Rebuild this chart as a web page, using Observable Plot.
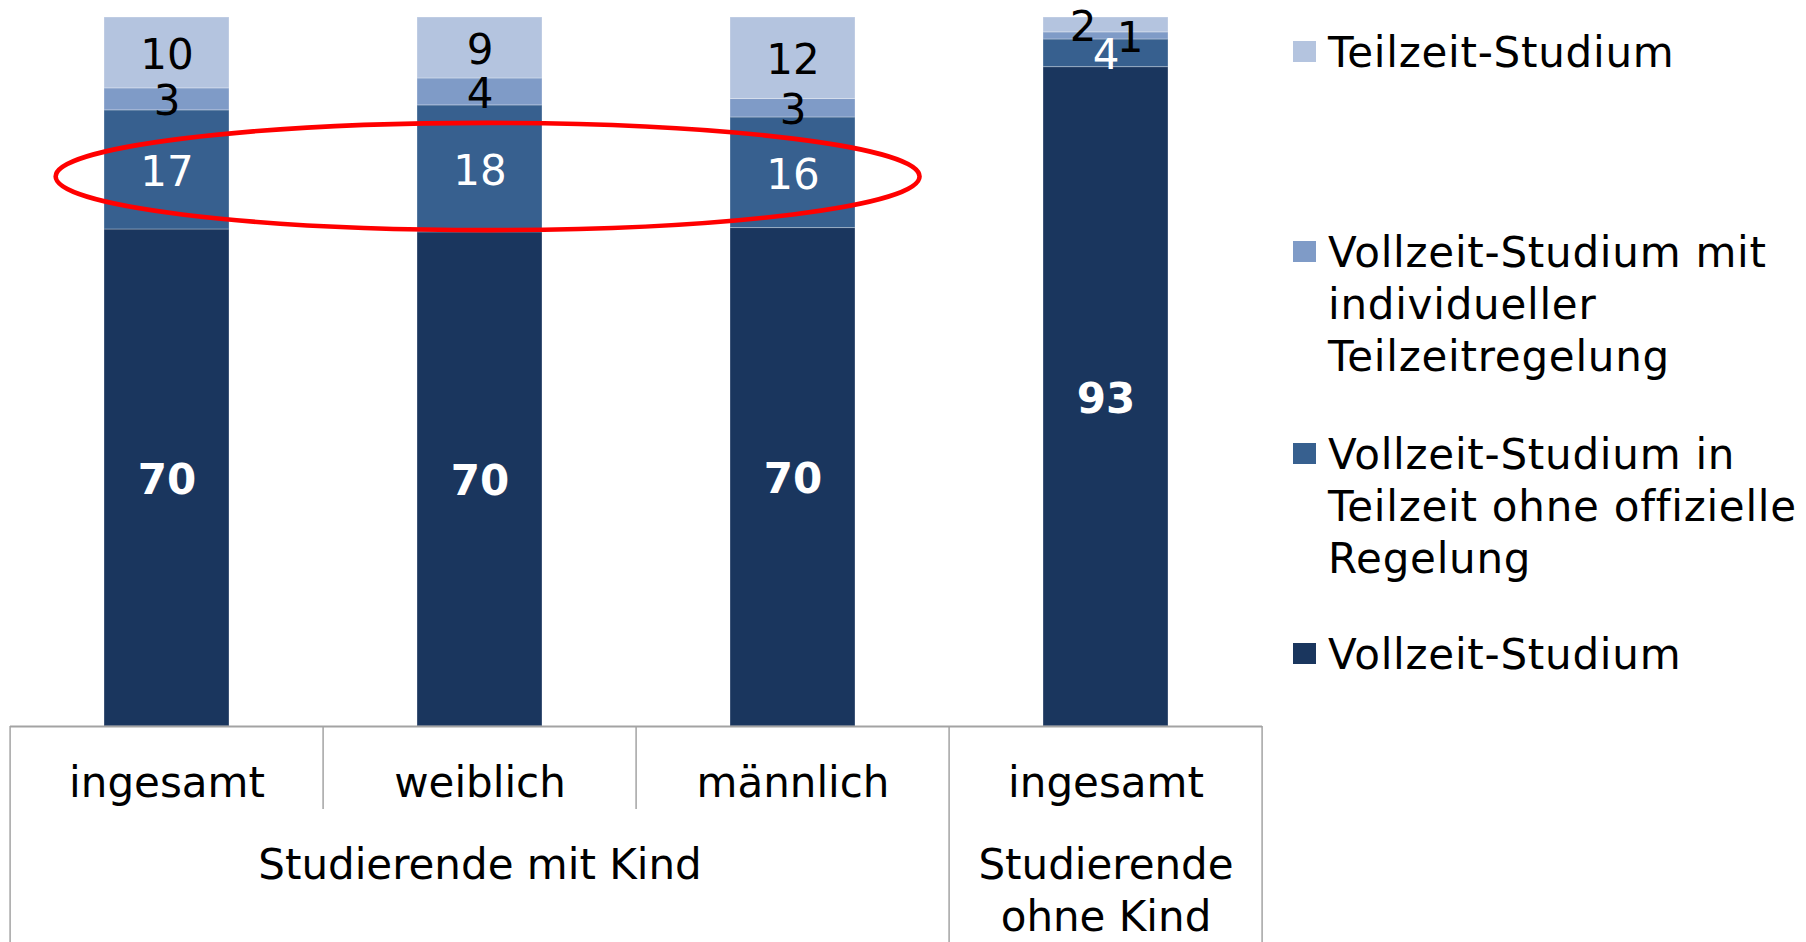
<!DOCTYPE html>
<html><head><meta charset="utf-8">
<script src="https://cdn.jsdelivr.net/npm/d3@7"></script>
<script src="https://cdn.jsdelivr.net/npm/@observablehq/plot@0.6"></script>
<style>
html,body{margin:0;padding:0;background:#fff;}
#wrap{position:relative;width:1806px;height:942px;overflow:hidden;font-family:"DejaVu Sans",Verdana,sans-serif;}
#chart{position:absolute;left:0;top:0;}
#legend{position:absolute;left:1293px;top:0;width:513px;height:942px;}
.sw{position:absolute;left:0;width:23px;height:21px;}
.lbl{position:absolute;left:35px;font-size:42px;line-height:52px;letter-spacing:0.75px;white-space:nowrap;color:#000;}
</style></head>
<body><div id="wrap"><div id="chart"></div><div id="legend"></div></div>
<script>
// ---- data ----
const groups = ["Studierende mit Kind", "Studierende mit Kind", "Studierende mit Kind", "Studierende ohne Kind"];
const subgroups = ["ingesamt", "weiblich", "männlich", "ingesamt"];
const series = [
  "Vollzeit-Studium",
  "Vollzeit-Studium in Teilzeit ohne offizielle Regelung",
  "Vollzeit-Studium mit individueller Teilzeitregelung",
  "Teilzeit-Studium"
];
// printed (rounded) labels
const vollzeit      = [70, 70, 70, 93];
const ohneRegelung  = [17, 18, 16, 4];
const individuell   = [3, 4, 3, 1];
const teilzeit      = [10, 9, 12, 2];
// shares (%)
const vollzeitShare     = [70.1, 69.7, 70.3, 93.0];
const ohneRegelungShare = [16.8, 17.9, 15.6, 3.9];
const individuellShare  = [3.1, 3.8, 2.6, 1.0];
const teilzeitShare     = [10.0, 8.6, 11.5, 2.1];
const colors = ["#1a365e", "#37608f", "#7f9bc7", "#b4c4df"];
const groupLabels = ["Studierende mit Kind", "Studierende\nohne Kind"];
const legendOrder = [
  {s: 3, lines: ["Teilzeit-Studium"]},
  {s: 2, lines: ["Vollzeit-Studium mit", "individueller", "Teilzeitregelung"]},
  {s: 1, lines: ["Vollzeit-Studium in", "Teilzeit ohne offizielle", "Regelung"]},
  {s: 0, lines: ["Vollzeit-Studium"]}
];

// ---- table ----
const keys = groups.map((g, i) => g + "|" + subgroups[i]);
const labelsBySeries = [vollzeit, ohneRegelung, individuell, teilzeit];
const sharesBySeries = [vollzeitShare, ohneRegelungShare, individuellShare, teilzeitShare];
const rows = [];
keys.forEach((k, i) => {
  series.forEach((s, j) => rows.push({key: k, idx: i, series: s, sIdx: j, share: sharesBySeries[j][i], label: labelsBySeries[j][i]}));
});
const groupRows = [
  {key: keys[1], text: groupLabels[0]},
  {key: keys[3], text: groupLabels[1]}
];

const W = 1290, H = 942;
const mL = 10, mR = 28, mT = 17, mB = 216;
const FS = 42;

function stackText(opts) {
  return Plot.text(rows, Plot.stackY({x: "key", y: "share", z: "series", offset: "normalize", fontSize: FS, dy: 2.5, ...opts}));
}

// axis box separators
function boxMark(index, scales, values, dims) {
  const g = d3.create("svg:g").attr("stroke", "#a3a3a3").attr("stroke-width", 1.5);
  const step = (dims.width - dims.marginLeft - dims.marginRight) / keys.length;
  const y0 = dims.height - dims.marginBottom;
  const bounds = [];
  keys.forEach((k, i) => bounds.push({x: scales.x(k) - 0.3 * step, long: i === 0 || groups[i] !== groups[i - 1]}));
  bounds.push({x: scales.x(keys[keys.length - 1]) + 0.7 * step, long: true});
  for (const b of bounds) {
    g.append("line").attr("x1", b.x).attr("x2", b.x).attr("y1", y0).attr("y2", b.long ? dims.height : y0 + 83);
  }
  return g.node();
}

// red annotation ellipse around the "ohne Regelung" segments
function ellipseMark(index, scales, values, dims) {
  const step = (dims.width - dims.marginLeft - dims.marginRight) / keys.length;
  const cx = scales.x(keys[1]) + 0.2 * step + 8;
  const cy = scales.y(0.775);
  const ry = scales.y(0.775 - 0.0756) - cy;
  return d3.create("svg:ellipse")
    .attr("cx", cx).attr("cy", cy).attr("rx", 1.38 * step).attr("ry", ry)
    .attr("fill", "none").attr("stroke", "#ff0000").attr("stroke-width", 4.6).node();
}

const chart = Plot.plot({
  width: W, height: H,
  marginLeft: mL, marginRight: mR, marginTop: mT, marginBottom: mB,
  style: {fontFamily: '"DejaVu Sans", Verdana, sans-serif', background: "transparent"},
  x: {type: "band", domain: keys, paddingInner: 0.6, paddingOuter: 0.3, axis: null},
  y: {domain: [0, 1], axis: null},
  color: {domain: series, range: colors},
  marks: [
    Plot.barY(rows, Plot.stackY({x: "key", y: "share", z: "series", fill: "series", offset: "normalize", stroke: "#ffffff", strokeOpacity: 0.3, strokeWidth: 1})),
    // Vollzeit (bold white)
    stackText({text: d => d.sIdx === 0 ? String(d.label) : null, fill: "white", fontWeight: "bold"}),
    // ohne Regelung (white)
    stackText({text: d => d.sIdx === 1 ? String(d.label) : null, fill: "white"}),
    // individuell (black)
    stackText({text: d => d.sIdx === 2 && d.idx !== 3 ? String(d.label) : null, fill: "black"}),
    stackText({text: d => d.sIdx === 2 && d.idx === 3 ? String(d.label) : null, fill: "black", dx: 24}),
    // teilzeit (black)
    stackText({text: d => d.sIdx === 3 && d.idx !== 3 ? String(d.label) : null, fill: "black"}),
    stackText({text: d => d.sIdx === 3 && d.idx === 3 ? String(d.label) : null, fill: "black", dx: -23}),
    // axis box
    Plot.ruleY([0], {stroke: "#a3a3a3", strokeWidth: 2}),
    boxMark,
    Plot.text(keys, {x: d => d, text: (d, i) => subgroups[i], frameAnchor: "bottom", dy: 70, fontSize: FS, fill: "black"}),
    Plot.text(groupRows, {x: "key", text: "text", frameAnchor: "bottom", lineAnchor: "top", dy: 116, lineHeight: 52 / FS, fontSize: FS, fill: "black"}),
    ellipseMark
  ]
});
document.getElementById("chart").appendChild(chart);

// legend
const legend = document.getElementById("legend");
const firstCenters = [51, 251, 453, 653];
legendOrder.forEach((item, i) => {
  const c = firstCenters[i];
  const sw = document.createElement("div");
  sw.className = "sw";
  sw.style.top = (c - 10.5) + "px";
  sw.style.background = colors[item.s];
  legend.appendChild(sw);
  const lbl = document.createElement("div");
  lbl.className = "lbl";
  lbl.style.top = (c - 24.5) + "px";
  lbl.innerHTML = item.lines.join("<br>");
  legend.appendChild(lbl);
});
</script>
</body></html>
